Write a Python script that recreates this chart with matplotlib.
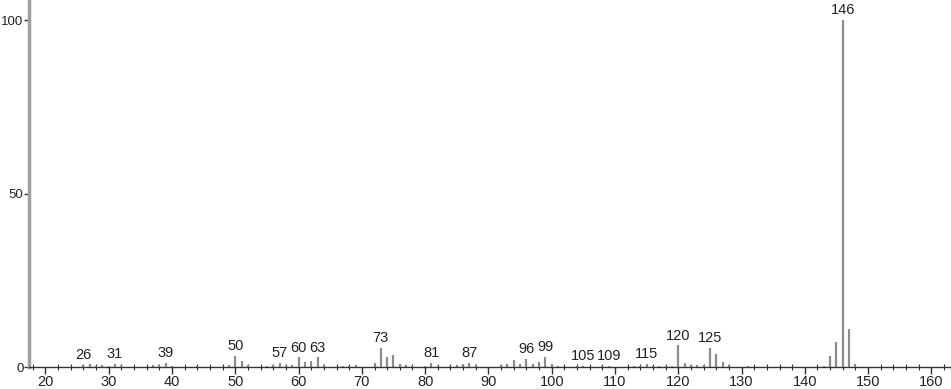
import matplotlib
matplotlib.use("Agg")
import matplotlib.pyplot as plt
from matplotlib.ticker import MultipleLocator

plt.rcParams["font.family"] = ["Liberation Sans", "DejaVu Sans"]

mz = [26, 27, 28, 29, 30, 31, 32, 37, 38, 39, 40, 44, 49, 50, 51, 52, 55, 56, 57, 58,
      59, 60, 61, 62, 63, 64, 67, 68, 69, 72, 73, 74, 75, 76, 77, 78, 80, 81, 82, 84,
      85, 86, 87, 88, 92, 93, 94, 95, 96, 97, 98, 99, 100, 101, 104, 105, 108, 109,
      113, 114, 115, 116, 117, 118, 119, 120, 121, 122, 123, 124, 125, 126, 127, 128,
      131, 143, 144, 145, 146, 147, 148]
intensity = [0.7, 0.8, 0.4, 0.5, 0.3, 0.8, 0.3, 0.5, 0.7, 1.2, 0.3, 0.3, 0.6, 3.3, 1.8,
             0.5, 0.4, 0.6, 1.2, 0.4, 0.5, 2.8, 1.3, 1.6, 2.8, 0.6, 0.3, 0.4, 0.6, 1.2,
             5.6, 3.0, 3.4, 1.0, 0.5, 0.3, 0.4, 1.2, 0.4, 0.3, 0.5, 0.9, 1.1, 0.5, 0.5,
             1.0, 2.0, 1.0, 2.3, 0.8, 1.4, 2.9, 0.8, 0.4, 0.3, 0.4, 0.3, 0.4, 0.3, 0.4,
             1.0, 0.4, 0.3, 0.4, 0.4, 6.2, 1.1, 0.5, 0.5, 0.5, 5.6, 3.8, 1.3, 0.5, 0.3,
             0.4, 3.1, 7.3, 100.0, 11.0, 0.9]
labeled = [26, 31, 39, 50, 57, 60, 63, 73, 81, 87, 96, 99, 105, 109, 115, 120, 125, 146]
xticks = [20, 30, 40, 50, 60, 70, 80, 90, 100, 110, 120, 130, 140, 150, 160]
yticks = [0, 50, 100]

fig = plt.figure(figsize=(9.51, 3.89), dpi=100)
ax = fig.add_axes([29 / 951, 22 / 389, 1 - 29 / 951, 1 - 22 / 389])

ax.vlines(mz, 0, intensity, colors="#8c8c8c", linewidth=1.6)

lookup = dict(zip(mz, intensity))
for m in labeled:
    ax.annotate(str(m), (m, lookup[m]), xytext=(0, 2), textcoords="offset points",
                ha="center", va="bottom", fontsize=10.5, color="#222222")

ax.set_xlim(17.4, 163.1)
ax.set_ylim(0, 105.8)
ax.set_xticks(xticks)
ax.set_yticks(yticks)
ax.xaxis.set_minor_locator(MultipleLocator(2))

for s in ["top", "right"]:
    ax.spines[s].set_visible(False)
ax.spines["left"].set_color("#a0a0a0")
ax.spines["left"].set_linewidth(2.5)
ax.spines["bottom"].set_color("#333333")
ax.spines["bottom"].set_linewidth(1.0)

ax.tick_params(axis="x", which="major", direction="out", length=5, width=1,
               color="#333333", labelsize=10.5, pad=1, labelcolor="#222222")
ax.tick_params(axis="x", which="minor", direction="inout", length=4, width=0.8,
               color="#333333")
ax.tick_params(axis="y", which="major", direction="out", length=3.5, width=1,
               color="#333333", labelsize=9.5, pad=0.5, labelcolor="#222222")

fig.savefig("out.png", dpi=100)
